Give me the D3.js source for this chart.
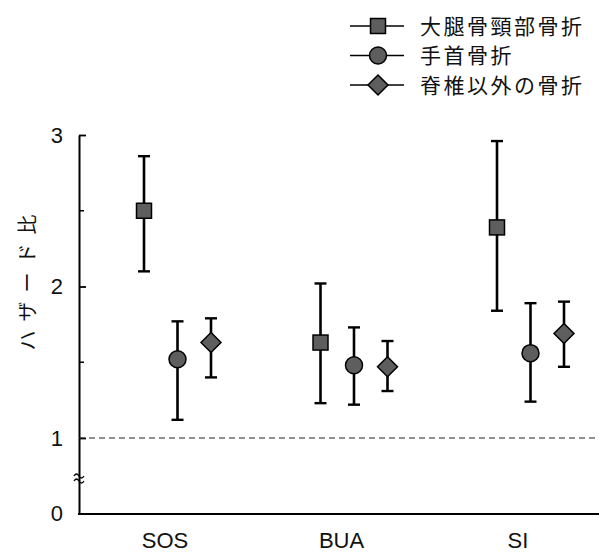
<!DOCTYPE html>
<html><head><meta charset="utf-8">
<script src="https://cdn.jsdelivr.net/npm/d3@7"></script>
<style>body{margin:0;background:#fff}svg{display:block}</style>
</head><body>
<svg id="c" width="599" height="554"></svg>
<script>
const categories = ["SOS", "BUA", "SI"];
const series = ["大腿骨頸部骨折", "手首骨折", "脊椎以外の骨折"];
const shapes = ["square", "circle", "diamond"];
// hazard ratio estimates and 95% CI [lower, upper], per series, by category
const hipValue   = [2.50, 1.63, 2.39];
const hipLow     = [2.10, 1.23, 1.84];
const hipHigh    = [2.86, 2.02, 2.96];
const wristValue = [1.52, 1.48, 1.56];
const wristLow   = [1.12, 1.22, 1.24];
const wristHigh  = [1.77, 1.73, 1.89];
const nonvValue  = [1.63, 1.47, 1.69];
const nonvLow    = [1.40, 1.31, 1.47];
const nonvHigh   = [1.79, 1.64, 1.90];
const yTicks = [0, 1, 2, 3];
const yMinorTicks = [1.5, 2.5];

const values = [hipValue, wristValue, nonvValue];
const lows = [hipLow, wristLow, nonvLow];
const highs = [hipHigh, wristHigh, nonvHigh];

const svg = d3.select("#c");
const fontLatin = "Liberation Sans, Arial, sans-serif";
const fontJP = "'Noto Sans CJK JP', sans-serif";
const fill = "#5e5e5e";
const ink = "#111";

const axisX = 79, right = 599;
// broken axis: 0 placed below the break, linear from 1 to 3
const y = d3.scaleLinear().domain([0, 1, 3]).range([514, 438, 135]);
const x = d3.scalePoint().domain(categories).range([178, 531]);
const off = d3.scalePoint().domain(series).range([-34, 33]);

// y axis
const yAxis = d3.axisLeft(y).tickValues(yTicks.filter(d => d > 0)).tickSizeInner(-7).tickSizeOuter(0).tickPadding(16).tickFormat(d3.format("d"));
const gy = svg.append("g").attr("transform", `translate(${axisX},0)`).call(yAxis);
gy.select(".domain").attr("stroke", "#000").attr("stroke-width", 2);
gy.selectAll(".tick line").attr("stroke", "#000").attr("stroke-width", 1.8);
gy.selectAll(".tick text").attr("font-family", fontLatin).attr("font-size", 22).attr("fill", ink);
// zero label
gy.append("text").attr("x", -16).attr("y", y(0)).attr("dy", "0.32em").attr("text-anchor", "end")
  .attr("font-family", fontLatin).attr("font-size", 22).attr("fill", ink).text(yTicks[0]);
// minor ticks
gy.selectAll(".minor").data(yMinorTicks).join("line").attr("class", "minor")
  .attr("x1", 0).attr("x2", 5).attr("y1", d => y(d)).attr("y2", d => y(d))
  .attr("stroke", "#000").attr("stroke-width", 1.5);

// axis break symbol
const by = 478;
[-3, 2].forEach(dy => {
  svg.append("path")
    .attr("d", `M${axisX-5},${by+dy+1} q2.5,-4 5,0 t5,0`)
    .attr("fill", "none").attr("stroke", "#000").attr("stroke-width", 1.3);
});

// bottom axis line
svg.append("line").attr("x1", axisX - 1).attr("x2", right).attr("y1", y(0)).attr("y2", y(0))
  .attr("stroke", "#000").attr("stroke-width", 2);

// reference dashed line at HR = 1
svg.append("line").attr("x1", axisX).attr("x2", right).attr("y1", y(1)).attr("y2", y(1))
  .attr("stroke", "#222").attr("stroke-width", 1.1).attr("stroke-dasharray", "6,4");

// category labels
svg.selectAll(".cat").data(categories).join("text").attr("class", "cat")
  .attr("x", d => x(d) - 13).attr("y", 548).attr("text-anchor", "middle")
  .attr("font-family", fontLatin).attr("font-size", 22).attr("fill", ink).text(d => d);

// y axis title
svg.append("text").attr("transform", `translate(28,278) rotate(-90)`)
  .attr("text-anchor", "middle").attr("dy", "0.35em")
  .attr("font-family", fontJP).attr("font-size", 20).attr("letter-spacing", 9).attr("fill", ink)
  .text("ハザード比");

function marker(g, shape, cx, cy) {
  if (shape === "square") {
    g.append("rect").attr("x", cx - 7.5).attr("y", cy - 7.5).attr("width", 15).attr("height", 15)
      .attr("fill", fill).attr("stroke", "#000").attr("stroke-width", 1.5);
  } else if (shape === "circle") {
    g.append("circle").attr("cx", cx).attr("cy", cy).attr("r", 8.5)
      .attr("fill", fill).attr("stroke", "#000").attr("stroke-width", 1.5);
  } else {
    const s = 10;
    g.append("path").attr("d", `M${cx},${cy-s}L${cx+s},${cy}L${cx},${cy+s}L${cx-s},${cy}Z`)
      .attr("fill", fill).attr("stroke", "#000").attr("stroke-width", 1.5);
  }
}

// error bars and points
series.forEach((s, si) => {
  categories.forEach((c, ci) => {
    const cx = x(c) + off(s);
    const g = svg.append("g");
    g.append("line").attr("x1", cx).attr("x2", cx).attr("y1", y(highs[si][ci])).attr("y2", y(lows[si][ci]))
      .attr("stroke", "#000").attr("stroke-width", 2.6);
    [highs[si][ci], lows[si][ci]].forEach(v => {
      g.append("line").attr("x1", cx - 6).attr("x2", cx + 6).attr("y1", y(v)).attr("y2", y(v))
        .attr("stroke", "#000").attr("stroke-width", 2.4);
    });
    marker(g, shapes[si], cx, y(values[si][ci]));
  });
});

// legend
const legY = d3.scalePoint().domain(series).range([26, 85]);
series.forEach((s, si) => {
  const g = svg.append("g");
  const ly = legY(s);
  g.append("line").attr("x1", 350).attr("x2", 404).attr("y1", ly).attr("y2", ly)
    .attr("stroke", "#000").attr("stroke-width", 1.5);
  marker(g, shapes[si], 378, ly);
  g.append("text").attr("x", 420).attr("y", ly).attr("dy", "0.36em")
    .attr("font-family", fontJP).attr("font-size", 21).attr("letter-spacing", 2.5).attr("fill", ink).text(s);
});
</script>
</body></html>
